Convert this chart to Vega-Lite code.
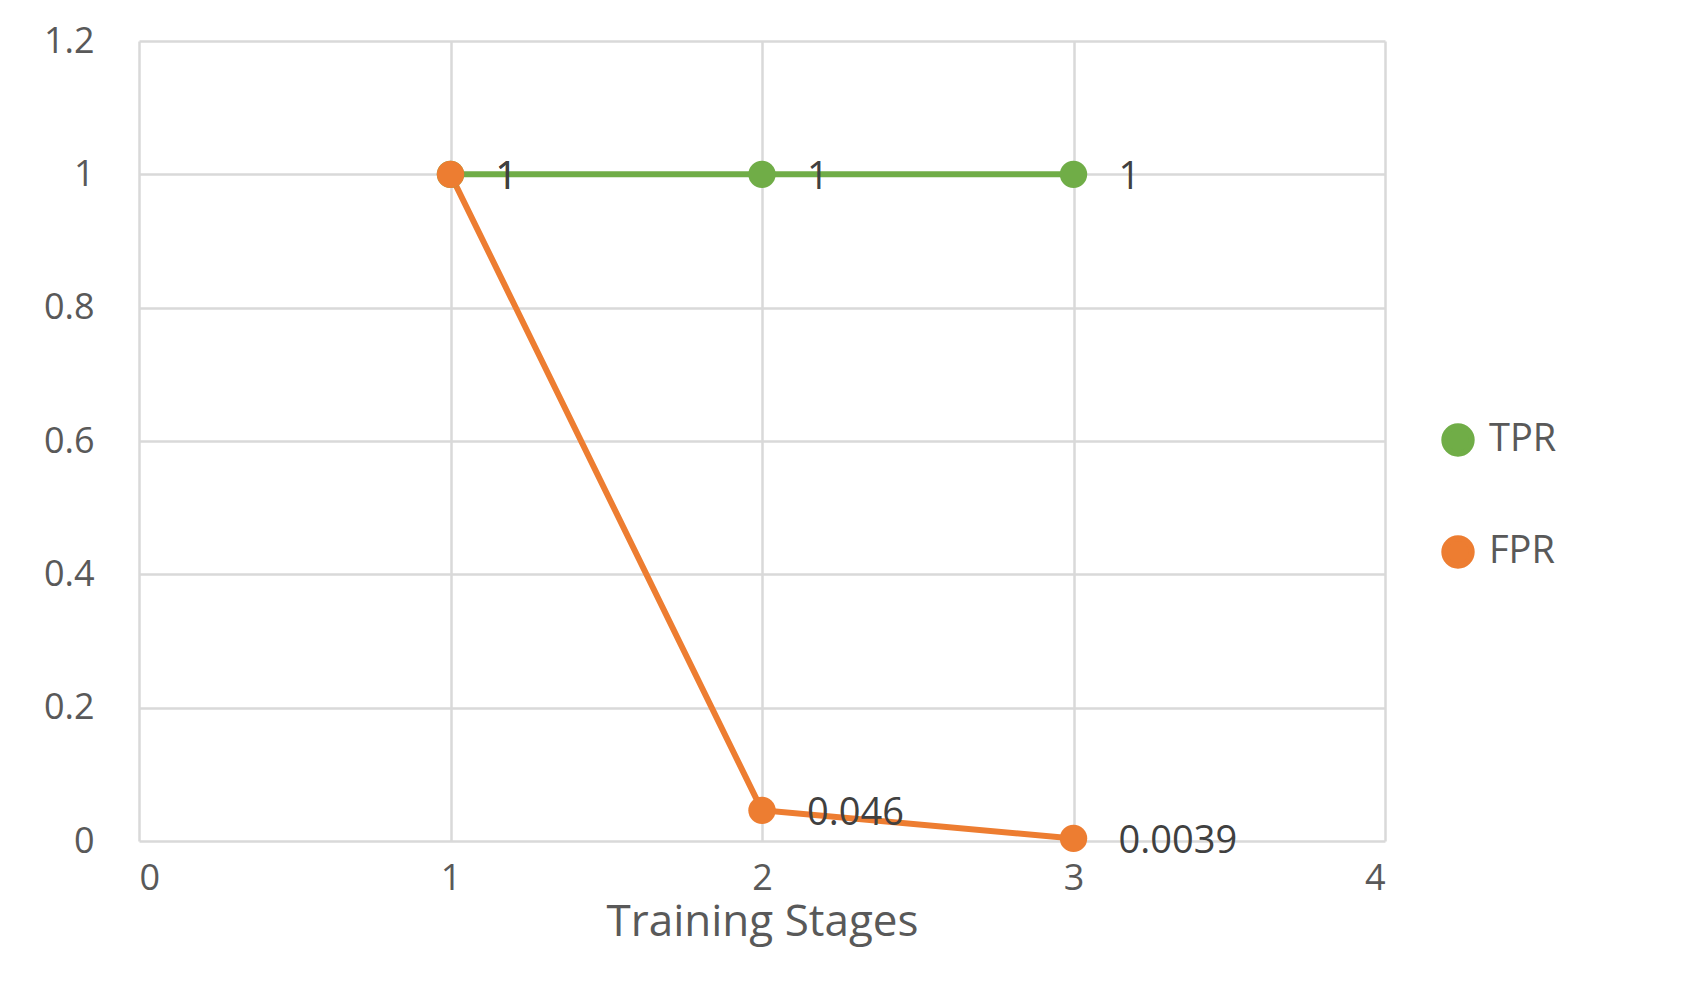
{
  "$schema": "https://vega.github.io/schema/vega-lite/v6.json",
  "autosize": {"type": "none"},
  "width": 1246,
  "height": 800,
  "padding": {"left": 139, "top": 41, "right": 317, "bottom": 159},
  "background": "white",
  "config": {
    "font": "Open Sans",
    "view": {"stroke": null},
    "axis": {"gridColor": "#d9d9d9", "gridWidth": 2.5, "domain": false, "ticks": false, "labelColor": "#595959", "labelFontSize": 36, "titleColor": "#595959", "titleFontSize": 44, "titleFontWeight": "normal"}
  },
  "data": {
    "values": [
      {"stage": 1, "value": 1, "series": "TPR", "label": "1"},
      {"stage": 2, "value": 1, "series": "TPR", "label": "1"},
      {"stage": 3, "value": 1, "series": "TPR", "label": "1"},
      {"stage": 1, "value": 1, "series": "FPR", "label": "1"},
      {"stage": 2, "value": 0.046, "series": "FPR", "label": "0.046"},
      {"stage": 3, "value": 0.0039, "series": "FPR", "label": "0.0039"}
    ]
  },
  "encoding": {
    "x": {"field": "stage", "type": "quantitative", "scale": {"domain": [0, 4], "nice": false}, "axis": {"values": [0, 1, 2, 3, 4], "title": "Training Stages", "labelPadding": 20, "titlePadding": 4}},
    "y": {"field": "value", "type": "quantitative", "scale": {"domain": [0, 1.2], "nice": false}, "axis": {"values": [0, 0.2, 0.4, 0.6, 0.8, 1, 1.2], "labelExpr": "'' + datum.value", "title": null, "labelPadding": 45}}
  },
  "layer": [
    {
      "mark": {"type": "line", "strokeWidth": 6, "point": {"size": 750, "filled": true, "opacity": 1}},
      "encoding": {
        "color": {"field": "series", "type": "nominal", "sort": ["TPR", "FPR"], "scale": {"domain": ["TPR", "FPR"], "range": ["#70AD47", "#ED7D31"]},
          "legend": {"title": null, "orient": "none", "legendX": 1300, "legendY": 380, "labelFontSize": 38, "labelColor": "#595959", "symbolSize": 750, "symbolStrokeWidth": 6, "rowPadding": 60, "labelOffset": 12}}
      }
    },
    {
      "mark": {"type": "text", "align": "left", "dx": 45, "dy": 4, "fontSize": 38, "color": "#404040"},
      "encoding": {"text": {"field": "label"}}
    }
  ]
}
